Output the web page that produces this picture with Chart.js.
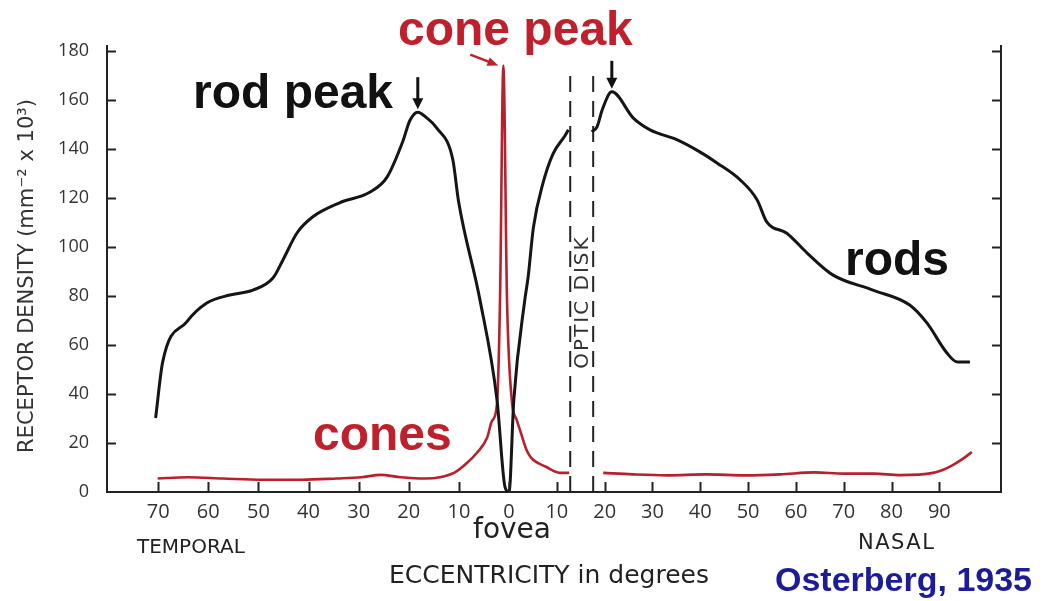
<!DOCTYPE html>
<html>
<head>
<meta charset="utf-8">
<script src="https://cdn.jsdelivr.net/npm/chart.js@4.4.1/dist/chart.umd.min.js"></script>
<style>
html,body{margin:0;padding:0;background:#ffffff;}
#wrap{width:1047px;height:601px;position:relative;}
canvas{display:block;}
</style>
</head>
<body>
<div id="wrap"><canvas id="c" width="1047" height="601"></canvas></div>
<script>
// ---- data (eccentricity in degrees: temporal negative, nasal positive) ----
const rodX = [-70.5,-69.1,-64.3,-60.3,-55.7,-51.1,-47.1,-45.1,-42.3,-39.2,-33.8,-27.7,-24.3,-21.2,-19.8,-18.2,-16.6,-14.4,-11.2,-10.1,-5.8,-2.4,-0.8,0,1.0,3.3,4.0,5.1,7.1,9.2,11.8,12.4,14.8,17.3,18.4,19.5,21.5,26.0,29.5,35.2,39.9,43.5,48.4,51.9,53.9,58.1,62.3,67.7,76.1,83.8,87.4,91.6,93.7,96.4];
const rodY = [30.2,53,69.4,77.1,80.4,82.4,87.3,94.7,105.7,112.2,118,122.4,128.6,143,151.5,155,153,148.5,135.5,119,78.4,37.6,2,0,37.6,78.4,87.8,108,126,138,145.7,147.8,null,147,149,156,163.3,152.6,147.8,143.7,138.8,134.3,127.3,119.2,110.2,105.6,97.6,88.6,82.4,76.3,69,56.7,53.1,53.1];

const coneX = [-70.1,-64,-57.1,-49.2,-41.3,-34.4,-29.5,-25.6,-21.6,-16.7,-13.8,-10.8,-8.4,-6.4,-4.4,-3.4,-2.4,-1.8,-1.13,-0.4,0.6,1.6,2.5,3.7,4.6,7.8,10.6,12.6,15.5,19.7,25.8,33,41.2,49.5,56.7,63.9,70.1,76.3,81.8,88.7,90.7,92.8,94.9,96.8];
const coneY = [5.5,6,5.5,5,5,5.5,6,7,6,5.5,6,8,11.8,16,22,29,36,78,174,78,37,29.4,24,17,14,10.2,7.8,7.8,null,7.8,7.2,6.8,7.2,6.8,7.2,8,7.5,7.5,6.9,7.8,9,11,13.5,16.3];

const opticDiskX = [12.8, 17.6];
const opticDiskTop = 173;

const xTickValues = [-70,-60,-50,-40,-30,-20,-10,0,10,20,30,40,50,60,70,80,90];
const yTickValues = [0,20,40,60,80,100,120,140,160,180];

// ---- an x scale whose temporal and nasal halves have their own spacing, as in the original figure ----
const X_ZERO_FRACTION = 0.4497;
class SplitLinearScale extends Chart.LinearScale {
  getPixelForValue(value) {
    if (value === null || value === undefined || isNaN(value)) return NaN;
    const z = X_ZERO_FRACTION;
    const dec = value < 0 ? z * (value - this.min) / (0 - this.min) : z + (1 - z) * value / this.max;
    return this.getPixelForDecimal(dec);
  }
  getValueForPixel(pixel) {
    const dec = this.getDecimalForPixel(pixel);
    const z = X_ZERO_FRACTION;
    return dec < z ? this.min + dec / z * (0 - this.min) : (dec - z) / (1 - z) * this.max;
  }
}
SplitLinearScale.id = 'splitLinear';
SplitLinearScale.defaults = {};
Chart.register(SplitLinearScale);

// ---- helpers ----
const toPts = (xs, ys) => xs.map((x, i) => ({x: x, y: ys[i]}));
const AXIS = '#222222';
const RED = '#c0202c';

const inwardTicks = {
  id: 'inwardTicks',
  afterDatasetsDraw(chart) {
    const ctx = chart.ctx, a = chart.chartArea;
    const xs = chart.scales.x, ys = chart.scales.y;
    ctx.save();
    ctx.strokeStyle = AXIS;
    ctx.lineWidth = 2;
    ctx.beginPath();
    yTickValues.forEach(v => {
      if (v === 0) return;
      const py = Math.round(ys.getPixelForValue(v)) + 0.5;
      ctx.moveTo(a.left, py); ctx.lineTo(a.left + 9, py);
      ctx.moveTo(a.right, py); ctx.lineTo(a.right - 9, py);
    });
    xTickValues.forEach(v => {
      const px = Math.round(xs.getPixelForValue(v)) + 0.5;
      ctx.moveTo(px, a.bottom); ctx.lineTo(px, a.bottom - 10);
    });
    ctx.stroke();
    ctx.restore();
  }
};

const annotations = {
  id: 'annotations',
  afterDraw(chart) {
    const ctx = chart.ctx;
    const xs = chart.scales.x, ys = chart.scales.y;
    ctx.save();

    const peakOf = (xsArr, ysArr, test) => {
      let bi = -1;
      ysArr.forEach((v, i) => { if (v !== null && test(xsArr[i]) && (bi < 0 || v > ysArr[bi])) bi = i; });
      return {x: xsArr[bi], y: ysArr[bi]};
    };
    const downArrow = (px, tipY, len, color, head, w) => {
      ctx.strokeStyle = color; ctx.fillStyle = color; ctx.lineWidth = w;
      ctx.beginPath(); ctx.moveTo(px, tipY - len); ctx.lineTo(px, tipY - head + 1); ctx.stroke();
      ctx.beginPath(); ctx.moveTo(px - head * 0.5, tipY - head); ctx.lineTo(px + head * 0.5, tipY - head); ctx.lineTo(px, tipY); ctx.closePath(); ctx.fill();
    };
    const tPeak = peakOf(rodX, rodY, x => x < 0);
    const nPeak = peakOf(rodX, rodY, x => x > 0);
    downArrow(xs.getPixelForValue(tPeak.x), ys.getPixelForValue(tPeak.y) - 3, 32, '#111', 11, 3);
    downArrow(xs.getPixelForValue(nPeak.x), ys.getPixelForValue(nPeak.y) - 3, 28, '#111', 11, 3);

    // cone peak arrow
    const cPeak = peakOf(coneX, coneY, x => true);
    const cx = xs.getPixelForValue(cPeak.x), cy = ys.getPixelForValue(cPeak.y);
    const sx = cx - 33, sy = cy - 11, ex = cx - 5, ey = cy;
    ctx.strokeStyle = RED; ctx.fillStyle = RED; ctx.lineWidth = 2.5;
    ctx.beginPath(); ctx.moveTo(sx, sy); ctx.lineTo(ex - 6, ey - 2.4); ctx.stroke();
    const ang = Math.atan2(ey - sy, ex - sx);
    ctx.beginPath();
    ctx.moveTo(ex, ey);
    ctx.lineTo(ex - 11 * Math.cos(ang) + 4.5 * Math.sin(ang), ey - 11 * Math.sin(ang) - 4.5 * Math.cos(ang));
    ctx.lineTo(ex - 11 * Math.cos(ang) - 4.5 * Math.sin(ang), ey - 11 * Math.sin(ang) + 4.5 * Math.cos(ang));
    ctx.closePath(); ctx.fill();

    // big labels
    ctx.textBaseline = 'alphabetic';
    ctx.textAlign = 'left';
    ctx.font = 'bold 48px "Liberation Sans", Arial, sans-serif';
    ctx.fillStyle = '#111';
    ctx.fillText('rod peak', 193, 108);
    ctx.fillText('rods', 845, 275);
    ctx.fillStyle = RED;
    ctx.fillText('cone peak', 398, 45);
    ctx.fillText('cones', 313, 450);

    // optic disk label
    ctx.save();
    ctx.translate((xs.getPixelForValue(opticDiskX[0]) + xs.getPixelForValue(opticDiskX[1])) / 2 + 1, 302);
    ctx.rotate(-Math.PI / 2);
    ctx.font = '20px "DejaVu Sans", sans-serif';
    ctx.letterSpacing = '2px';
    ctx.fillStyle = '#333';
    ctx.textAlign = 'center';
    ctx.textBaseline = 'middle';
    ctx.fillText('OPTIC DISK', 0, 0);
    ctx.restore();

    // axis texts
    ctx.fillStyle = '#222';
    ctx.textAlign = 'center';
    ctx.font = '28px "DejaVu Sans", sans-serif';
    ctx.fillText('fovea', xs.getPixelForValue(0) + 3, 538);
    ctx.font = '25px "DejaVu Sans", sans-serif';
    ctx.fillText('ECCENTRICITY in degrees', 549, 583);
    ctx.textAlign = 'left';
    ctx.font = '20px "DejaVu Sans", sans-serif';
    ctx.fillText('TEMPORAL', 137, 553);
    ctx.save();
    ctx.font = '21px "DejaVu Sans", sans-serif';
    ctx.letterSpacing = '1.5px';
    ctx.fillText('NASAL', 858, 549);
    ctx.restore();

    ctx.font = 'bold 34px "Liberation Sans", Arial, sans-serif';
    ctx.fillStyle = '#1c1c98';
    ctx.fillText('Osterberg, 1935', 775, 591);

    // y axis title
    ctx.save();
    ctx.translate(28, 276);
    ctx.rotate(-Math.PI / 2);
    ctx.font = '21px "DejaVu Sans", sans-serif';
    ctx.fillStyle = '#333';
    ctx.textAlign = 'center';
    ctx.textBaseline = 'middle';
    ctx.fillText('RECEPTOR DENSITY (mm\u207B\u00B2 x 10\u00B3)', 0, 0);
    ctx.restore();

    ctx.restore();
  }
};

const datasets = [
  {
    label: 'rods',
    data: toPts(rodX, rodY),
    borderColor: '#151515',
    borderWidth: 3,
    pointRadius: 0,
    cubicInterpolationMode: 'monotone',
    spanGaps: false,
    showLine: true
  },
  {
    label: 'cones',
    data: toPts(coneX, coneY),
    borderColor: '#b8202e',
    borderWidth: 2.6,
    pointRadius: 0,
    cubicInterpolationMode: 'monotone',
    spanGaps: false,
    showLine: true
  }
];
opticDiskX.forEach((dx, i) => {
  datasets.push({
    label: 'optic disk ' + (i + 1),
    data: [{x: dx, y: 0}, {x: dx, y: opticDiskTop}],
    borderColor: '#222',
    borderWidth: 2,
    borderDash: [16, 9],
    pointRadius: 0,
    showLine: true
  });
});

new Chart(document.getElementById('c'), {
  type: 'scatter',
  data: {datasets: datasets},
  options: {
    responsive: false,
    animation: false,
    devicePixelRatio: 1,
    layout: {padding: {top: 46, left: 0, right: 0, bottom: 0}},
    plugins: {legend: {display: false}, tooltip: {enabled: false}},
    scales: {
      x: {
        type: 'splitLinear',
        position: 'bottom',
        min: -80.2,
        max: 102.9,
        afterBuildTicks: s => { s.ticks = xTickValues.map(v => ({value: v})); },
        afterFit: s => { s.height = 109; },
        grid: {display: false, drawTicks: false, tickLength: 0},
        border: {display: true, color: AXIS, width: 2},
        ticks: {
          padding: 8,
          color: '#333',
          font: {family: '"Open Sans", sans-serif', size: 20},
          callback: v => String(Math.abs(v)),
          maxRotation: 0, autoSkip: false
        }
      },
      y: {
        type: 'linear',
        position: 'left',
        min: 0,
        max: 182,
        afterBuildTicks: s => { s.ticks = yTickValues.map(v => ({value: v})); },
        afterFit: s => { s.width = 107; },
        grid: {display: false, drawTicks: false, tickLength: 0},
        border: {display: true, color: AXIS, width: 2},
        ticks: {
          padding: 18,
          color: '#333',
          font: {family: '"Open Sans", sans-serif', size: 18}
        }
      },
      y2: {
        type: 'linear',
        position: 'right',
        min: 0,
        max: 182,
        afterFit: s => { s.width = 46; },
        grid: {display: false, drawTicks: false, tickLength: 0},
        border: {display: true, color: AXIS, width: 2},
        ticks: {display: false}
      }
    }
  },
  plugins: [inwardTicks, annotations]
});
</script>
</body>
</html>
